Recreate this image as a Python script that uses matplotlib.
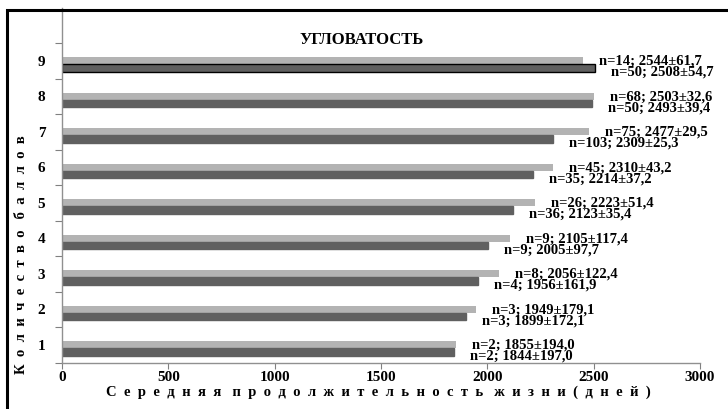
import matplotlib
matplotlib.use("Agg")
import matplotlib.pyplot as plt
from matplotlib.patches import Rectangle
import numpy as np

plt.rcParams['font.family'] = ['Liberation Serif', 'DejaVu Serif']

# data
scores = [1, 2, 3, 4, 5, 6, 7, 8, 9]
light_vals = [1855, 1949, 2056, 2105, 2223, 2310, 2477, 2503, 2451]
dark_vals = [1844, 1899, 1956, 2005, 2123, 2214, 2309, 2493, 2508]
light_labels = ["n=2; 1855±194,0", "n=3; 1949±179,1", "n=8; 2056±122,4",
                "n=9; 2105±117,4", "n=26; 2223±51,4", "n=45; 2310±43,2",
                "n=75; 2477±29,5", "n=68; 2503±32,6", "n=14; 2544±61,7"]
dark_labels = ["n=2; 1844±197,0", "n=3; 1899±172,1", "n=4; 1956±161,9",
               "n=9; 2005±97,7", "n=36; 2123±35,4", "n=35; 2214±37,2",
               "n=103; 2309±25,3", "n=50; 2493±39,4", "n=50; 2508±54,7"]
xticks = [0, 500, 1000, 1500, 2000, 2500, 3000]

title = "УГЛОВАТОСТЬ"
xlabel = "Середняя продолжительность жизни(дней)"
ylabel = "Количество баллов"

light_color = '#b3b3b3'
dark_color = '#606060'
bar_h = 0.21


def spaced(s):
    # imitate the wide letter spacing of the original
    words = ["\u2002".join(w) for w in s.split(" ")]
    return "\u2002 ".join(words)


fig = plt.figure(figsize=(7.28, 4.09), dpi=100)
ax = fig.add_axes([62 / 728, 46.5 / 409, 638 / 728, 355 / 409])

y = np.array(scores, dtype=float)
ax.barh(y, light_vals, height=bar_h, color=light_color, zorder=2)
edges = ['black' if s == 9 else dark_color for s in scores]
ax.barh(y - bar_h, dark_vals, height=bar_h, color=dark_color,
        edgecolor=edges, linewidth=1.0, zorder=2)

for yi, v, lab in zip(y, light_vals, light_labels):
    ax.annotate(lab, (v, yi), xytext=(11.5, -0.5), textcoords='offset points',
                ha='left', va='center', fontsize=10.5, fontweight='bold',
                annotation_clip=False)
for yi, v, lab in zip(y, dark_vals, dark_labels):
    ax.annotate(lab, (v, yi - bar_h), xytext=(11.5, -3), textcoords='offset points',
                ha='left', va='center', fontsize=10.5, fontweight='bold',
                annotation_clip=False)

ax.set_xlim(0, 3000)
ax.set_ylim(0.5, 10.5)
ax.set_xticks(xticks)
ax.set_xticklabels([str(t) for t in xticks], fontsize=11, fontweight='bold')
ax.tick_params(axis='x', length=4, pad=2, color='#808080')

ax.set_yticks(np.arange(0.5, 10.5, 1.0))
ax.set_yticklabels([])
ax.set_yticks(y, minor=True)
ax.set_yticklabels([str(s) for s in scores], minor=True, fontsize=11, fontweight='bold')
ax.tick_params(axis='y', which='major', length=5, color='#808080')
ax.tick_params(axis='y', which='minor', length=0, pad=12)

for side in ['top', 'right']:
    ax.spines[side].set_visible(False)
for side in ['left', 'bottom']:
    ax.spines[side].set_color('#909090')
    ax.spines[side].set_linewidth(1.0)

ax.text(0.47, 0.909, title, transform=ax.transAxes, ha='center', va='center',
        fontsize=12, fontweight='bold')

fig.text(378 / 728, 1 - 392 / 409, spaced(xlabel), ha='center', va='center',
         fontsize=10.5, fontweight='bold')
fig.text(22 / 728, 1 - 255 / 409, spaced(ylabel), ha='center', va='center',
         rotation=90, fontsize=10.5, fontweight='bold')

# outer frame of the chart area
fig.add_artist(Rectangle((6.5 / 728, -0.1), 1.2, 1.1 - 9.5 / 409,
                         transform=fig.transFigure, fill=False,
                         edgecolor='black', linewidth=2.2, clip_on=False))

fig.savefig('out.png', dpi=100)
